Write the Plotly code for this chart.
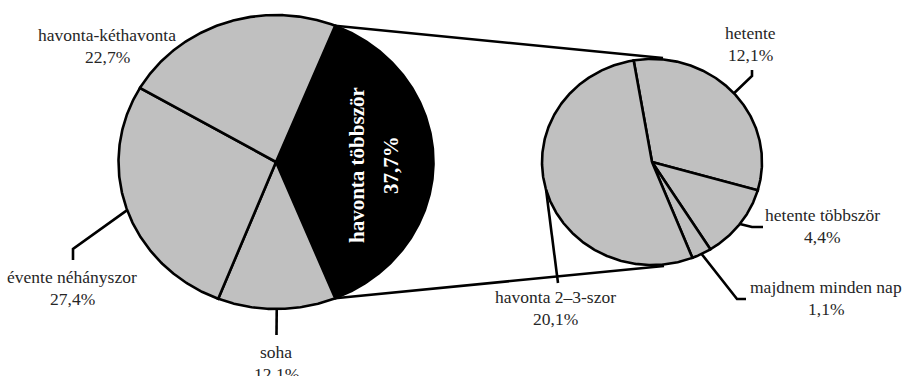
import numpy as np
import plotly.graph_objects as go

# Main pie: how often respondents do the activity
main_labels = ["havonta többször", "soha", "évente néhányszor", "havonta-kéthavonta"]
main_values = [37.7, 12.1, 27.4, 22.7]
main_text = ["37,7%", "12,1%", "27,4%", "22,7%"]

# Secondary pie: breakdown of "havonta többször"
sub_labels = ["hetente", "hetente többször", "majdnem minden nap", "havonta 2–3-szor"]
sub_values = [12.1, 4.4, 1.1, 20.1]
sub_text = ["12,1%", "4,4%", "1,1%", "20,1%"]

W, H = 905, 376
GREY = "#c0c0c0"
TXT = "#262626"
FONT = "Liberation Serif, serif"
LW = 2.6

# geometry (pixel-space axes)
C1, R1 = (276.0, 162.0), (157.5, 147.0)
C2, R2 = (652.0, 162.0), (110.0, 103.0)


def pt(c, r, ang):
    """Point on ellipse, angle in degrees clockwise from 12 o'clock."""
    a = np.radians(ang)
    return c[0] + r[0] * np.sin(a), c[1] - r[1] * np.cos(a)


def wedge(c, r, a0, a1, fill):
    angs = np.linspace(a0, a1, max(8, int(abs(a1 - a0) * 2)))
    xs, ys = pt(c, r, angs)
    x = np.concatenate([[c[0]], xs, [c[0]]])
    y = np.concatenate([[c[1]], ys, [c[1]]])
    return go.Scatter(x=x, y=y, mode="lines", fill="toself", fillcolor=fill,
                      line=dict(color="black", width=LW), hoverinfo="skip")


def angles(values, start):
    tot = sum(values)
    out, a = [], start
    for v in values:
        span = v / tot * 360.0
        out.append((a, a + span))
        a += span
    return out


fig = go.Figure()

# main pie: the highlighted slice is centred on 3 o'clock
main_span = main_values[0] / sum(main_values) * 360.0
main_ang = angles(main_values, 90.0 - main_span / 2)
for i, (a0, a1) in enumerate(main_ang):
    fig.add_trace(wedge(C1, R1, a0, a1, "black" if i == 0 else GREY))

# secondary pie
sub_ang = angles(sub_values, -9.6)
for a0, a1 in sub_ang:
    fig.add_trace(wedge(C2, R2, a0, a1, GREY))

# connector lines between the pies
p_top = pt(C1, R1, main_ang[0][0])
p_bot = pt(C1, R1, main_ang[0][1])
for p, q in [(p_top, (C2[0] + 11, C2[1] - R2[1] - 1)), (p_bot, (C2[0] + 12, C2[1] + R2[1] + 1))]:
    fig.add_trace(go.Scatter(x=[p[0], q[0]], y=[p[1], q[1]], mode="lines",
                             line=dict(color="black", width=LW), hoverinfo="skip"))

# leader lines: from slice mid-angle on the rim through elbow points
def leader(c, r, a0, a1, pts):
    sx, sy = pt(c, r, (a0 + a1) / 2)
    xs = [sx] + [p[0] for p in pts]
    ys = [sy] + [p[1] for p in pts]
    fig.add_trace(go.Scatter(x=xs, y=ys, mode="lines",
                             line=dict(color="black", width=LW), hoverinfo="skip"))

leader(C1, R1, *main_ang[2], [(73, 249), (73, 260)])
leader(C1, R1, *main_ang[1], [(276.5, 335)])
leader(C2, R2, *sub_ang[0], [(752, 76), (752, 70)])
leader(C2, R2, *sub_ang[1], [(752, 227), (763, 227)])
leader(C2, R2, *sub_ang[2], [(737, 299), (746, 299)])
leader(C2, R2, *sub_ang[3], [(558, 283)])

# category labels: (name, value text, x, y of first line)
label_pos = [
    (main_labels[3], main_text[3], 107, 35),
    (main_labels[2], main_text[2], 72, 277),
    (main_labels[1], main_text[1], 276, 352),
    (sub_labels[0], sub_text[0], 750, 33),
    (sub_labels[1], sub_text[1], 822, 215),
    (sub_labels[2], sub_text[2], 826, 287),
    (sub_labels[3], sub_text[3], 555, 297),
]
for name, val, x, y in label_pos:
    for j, t in enumerate([name, val]):
        fig.add_annotation(x=x, y=y + 22 * j, text=t, showarrow=False,
                           xanchor="center", yanchor="middle",
                           font=dict(family=FONT, size=17.5, color=TXT))

# label inside the highlighted slice, rotated
fig.add_annotation(x=357, y=165, text="<b>" + main_labels[0] + "</b>", showarrow=False,
                   textangle=-90, font=dict(family=FONT, size=21, color="white"))
fig.add_annotation(x=391, y=165, text="<b>" + main_text[0] + "</b>", showarrow=False,
                   textangle=-90, font=dict(family=FONT, size=21, color="white"))

fig.update_layout(
    width=W, height=H, margin=dict(l=0, r=0, t=0, b=0),
    paper_bgcolor="white", plot_bgcolor="white", showlegend=False,
    xaxis=dict(range=[0, W], visible=False, fixedrange=True),
    yaxis=dict(range=[H, 0], visible=False, fixedrange=True),
    hovermode=False,
)

fig.write_html("out.html")
